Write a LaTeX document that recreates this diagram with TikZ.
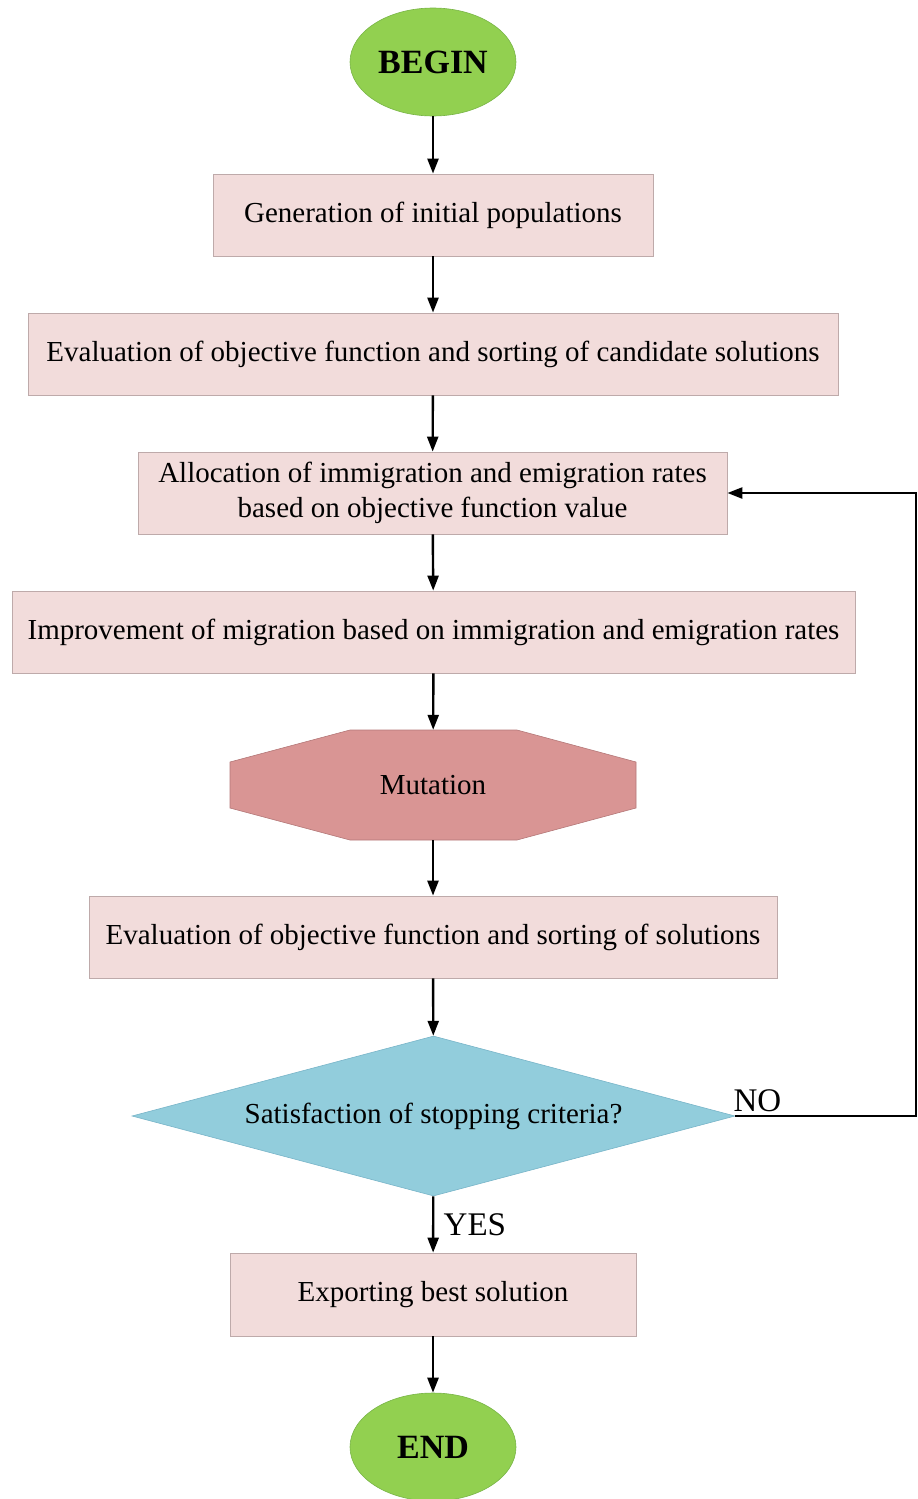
\documentclass[tikz,border=0pt]{standalone}
\usepackage{fontspec}
\setmainfont{Liberation Serif}
\usetikzlibrary{arrows.meta,shapes.geometric,calc}
\definecolor{boxfill}{RGB}{242,220,219}
\definecolor{boxline}{RGB}{190,170,170}
\definecolor{termfill}{RGB}{146,208,80}
\definecolor{termline}{RGB}{120,180,70}
\definecolor{mutfill}{RGB}{217,149,148}
\definecolor{mutline}{RGB}{180,120,120}
\definecolor{decfill}{RGB}{146,205,220}
\definecolor{decline}{RGB}{120,180,200}
\begin{document}
\begin{tikzpicture}[x=1pt,y=-1pt,
  every node/.style={font=\fontsize{29}{35}\selectfont},
  stepbox/.style={rectangle,fill=boxfill,draw=boxline,line width=0.8pt,
    minimum height=82pt,inner sep=0pt,align=center},
  terminal/.style={ellipse,fill=termfill,draw=termline,line width=0.6pt,
    minimum width=166pt,minimum height=108pt,inner sep=0pt,
    font=\fontsize{34}{40}\selectfont\bfseries},
  decision/.style={diamond,fill=decfill,draw=decline,line width=0.6pt,
    minimum width=603pt,minimum height=160pt,inner sep=0pt,aspect=3.77},
  flow/.style={line width=2.4pt,-{Triangle[length=15pt,width=11pt]}},
  lbl/.style={font=\fontsize{33}{38}\selectfont}
]
\useasboundingbox (0,0) rectangle (918,1499);

\node[terminal] (begin) at (433,62) {BEGIN};
\node[stepbox,minimum width=440pt] (init) at (433,215) {Generation of initial populations};
\node[stepbox,minimum width=810pt] (eval1) at (433,354) {Evaluation of objective function and sorting of candidate solutions};
\node[stepbox,minimum width=589pt] (alloc) at (432.5,493) {Allocation of immigration and emigration rates\\based on objective function value};
\node[stepbox,minimum width=843pt] (migr) at (433.5,632) {Improvement of migration based on immigration and emigration rates};

% mutation: an octagon drawn around a plain text node
\fill[mutfill,draw=mutline,line width=0.6pt]
  (350,730) -- (517,730) -- (636,762) -- (636,808) -- (517,840) -- (350,840)
  -- (230,808) -- (230,762) -- cycle;
\node[minimum width=406pt,minimum height=110pt,inner sep=0pt] (mut) at (433,785) {Mutation};

\node[stepbox,minimum width=688pt] (eval2) at (433,937) {Evaluation of objective function and sorting of solutions};
\node[decision] (stop) at (433.5,1116) {Satisfaction of stopping criteria?};
\node[stepbox,minimum width=406pt,minimum height=83pt] (export) at (433,1294.5) {Exporting best solution};
\node[terminal] (end) at (433,1447) {END};

\coordinate (loopA) at (916,1116);
\coordinate (loopB) at (916,493);

\draw[flow] (begin) -- (init);
\draw[flow] (init) -- (eval1);
\draw[flow] (eval1) -- (alloc);
\draw[flow] (alloc) -- (migr);
\draw[flow] (migr) -- (mut);
\draw[flow] (mut) -- (eval2);
\draw[flow] (eval2) -- (stop);
\draw[flow] (stop) -- node[lbl,right=6pt] {YES} (export);
\draw[flow] (export) -- (end);
\draw[flow] (stop.east) -- (loopA) -- (loopB) -- (alloc.east);
\node[lbl,anchor=south west,inner sep=2pt] (nolbl) at ($(stop.east)+(-4,-2)$) {NO};
\end{tikzpicture}
\end{document}
